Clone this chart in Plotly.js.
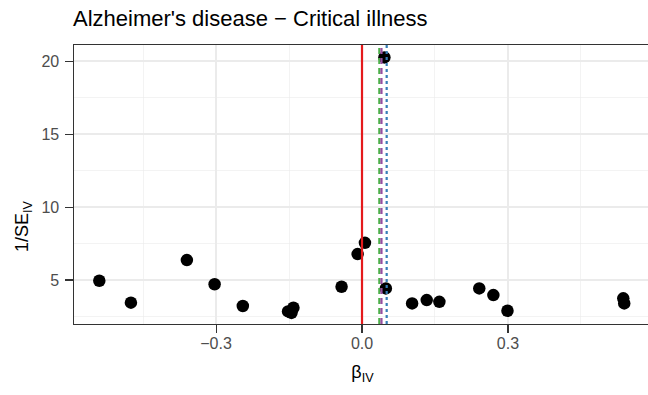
<!DOCTYPE html>
<html>
<head>
<meta charset="utf-8">
<script src="https://cdn.plot.ly/plotly-3.0.1.min.js"></script>
<style>
html, body { margin: 0; padding: 0; overflow: hidden; background: #fff; }
#chart { width: 652px; height: 395px; }
</style>
</head>
<body>
<div id="chart"></div>
<script>
// SNP-level IV estimates and precision (1/SE)
const betaIV = [-0.540, -0.475, -0.360, -0.303, -0.245, -0.152, -0.141, -0.145, -0.042, -0.009, 0.006, 0.046, 0.049, 0.103, 0.133, 0.159, 0.241, 0.270, 0.299, 0.537, 0.539];
const invSE  = [4.95, 3.45, 6.37, 4.71, 3.22, 2.85, 3.10, 2.75, 4.54, 6.78, 7.55, 20.25, 4.43, 3.40, 3.63, 3.51, 4.43, 3.97, 2.90, 3.75, 3.40];

// Summary estimates drawn as vertical lines
const lineLabels = ["Null", "IVW", "Weighted median", "MR-Egger"];
const lineX      = [0.0, 0.0356, 0.040, 0.0507];

const lineColors = ["#E41A1C", "#4DAF4A", "#984EA3", "#377EB8"];
const lineDash   = ["solid", "6px,4px", "6px,4px", "3px,3px"];

const xTicks = [-0.3, 0.0, 0.3];
const yTicks = [5, 10, 15, 20];

const shapes = lineX.map((v, i) => ({
  type: "line", xref: "x", yref: "paper", x0: v, x1: v, y0: 0, y1: 1,
  layer: "above",
  line: { color: lineColors[i], width: 2.2, dash: lineDash[i] }
}));

const trace = {
  type: "scatter", mode: "markers", x: betaIV, y: invSE,
  marker: { color: "#000000", size: 12.5 },
  hoverinfo: "x+y", showlegend: false
};

const axisCommon = {
  showline: true, mirror: true, linecolor: "#333333", linewidth: 1.1,
  ticks: "outside", ticklen: 7.5, tickcolor: "#333333", tickwidth: 1.1,
  tickfont: { family: "Liberation Sans, Arial, sans-serif", size: 16, color: "#4D4D4D" },
  gridcolor: "#EBEBEB", gridwidth: 1.2, zeroline: false,
};

const layout = {
  width: 652, height: 395,
  margin: { l: 74, r: 1, t: 45, b: 71 },
  paper_bgcolor: "#FFFFFF", plot_bgcolor: "#FFFFFF",
  font: { family: "Liberation Sans, Arial, sans-serif", color: "#000000" },
  title: {
    text: "Alzheimer's disease \u2212 Critical illness",
    x: 73 / 652, xanchor: "left", xref: "container",
    y: 1 - 18.6 / 395, yref: "container", yanchor: "middle",
    font: { size: 22, color: "#000000" }
  },
  xaxis: Object.assign({}, axisCommon, {
    range: [-0.592, 0.594], tickvals: xTicks, tickformat: ".1f",
    ticklabelstandoff: -3,
    minor: { dtick: 0.15, tick0: 0, showgrid: true, gridcolor: "#EBEBEB", gridwidth: 0.6, ticks: "" },
    title: { text: "\u03B2<sub>IV</sub>", font: { size: 18, color: "#000000" }, standoff: 14 }
  }),
  yaxis: Object.assign({}, axisCommon, {
    range: [1.99, 21.1], tickvals: yTicks, ticklabelstandoff: 3,
    minor: { dtick: 2.5, tick0: 0, showgrid: true, gridcolor: "#EBEBEB", gridwidth: 0.6, ticks: "" }
  }),
  annotations: [{
    text: "1/SE<sub>IV</sub>", textangle: -90, showarrow: false,
    xref: "paper", yref: "paper", x: (23 - 74) / 577, y: (324 - 226) / 279,
    xanchor: "center", yanchor: "middle",
    font: { size: 18, color: "#000000" }
  }],
  shapes: shapes
};

Plotly.newPlot("chart", [trace], layout, { displayModeBar: false, staticPlot: true });
</script>
</body>
</html>
